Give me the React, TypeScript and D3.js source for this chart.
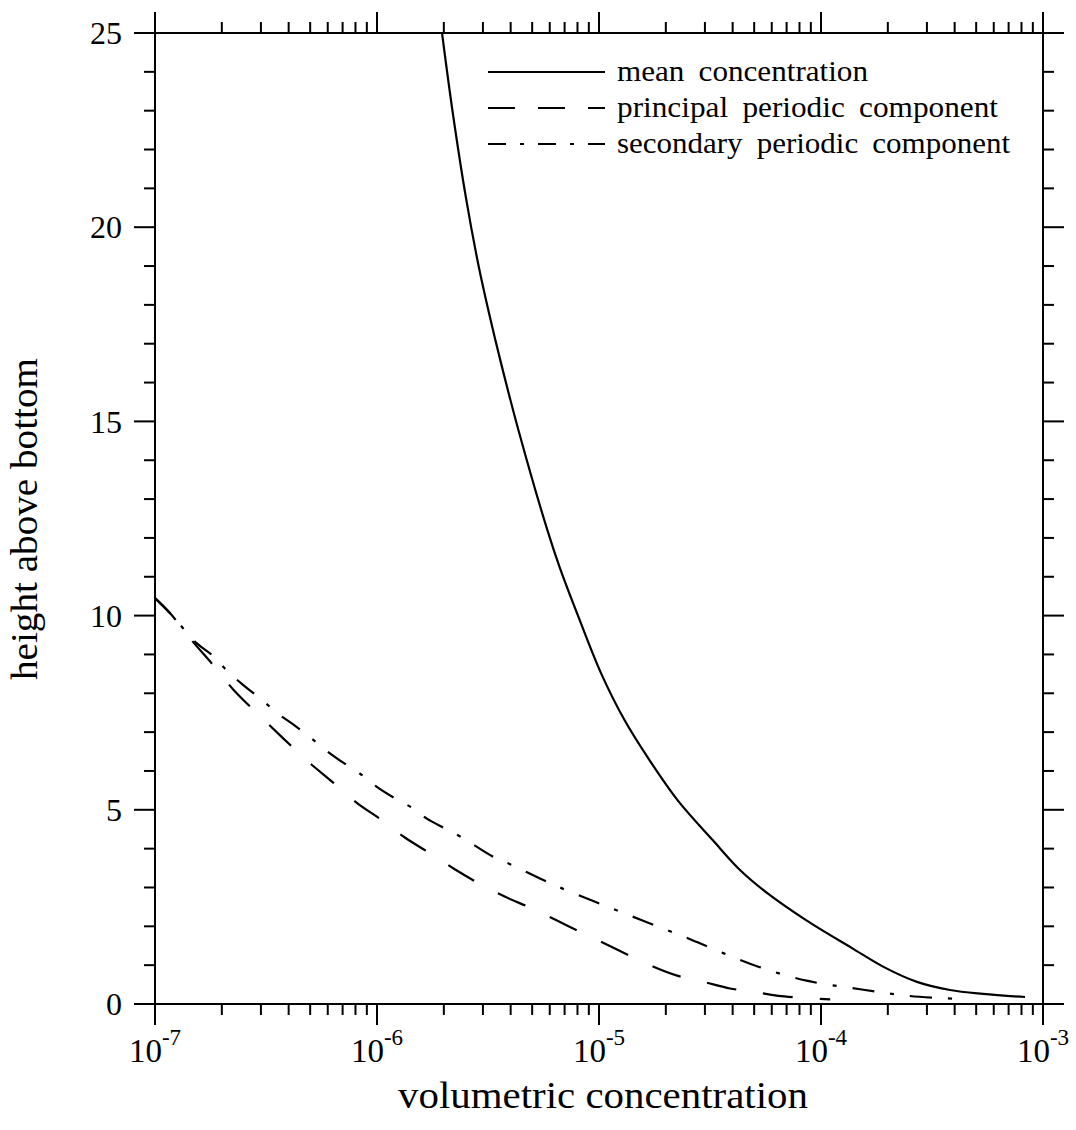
import React from "react";
import * as d3 from "d3";

// ---------- data ----------
const meanConc: number[] = [1.963e-6, 2.195e-6, 2.512e-6, 2.851e-6, 3.195e-6, 3.62e-6, 4.334e-6, 5.855e-6, 6.645e-6, 8.09e-6, 1.021e-5, 1.303e-5, 1.652e-5, 2.258e-5, 3.252e-5, 4.316e-5, 5.711e-5, 8.558e-5, 1.379e-4, 1.922e-4, 2.706e-4, 3.811e-4, 5.366e-4, 8.297e-4];
const meanHeight: number[] = [25.0, 22.94, 20.78, 19.08, 17.79, 16.5, 14.78, 12.2, 11.25, 9.96, 8.52, 7.31, 6.36, 5.25, 4.22, 3.45, 2.86, 2.16, 1.44, 0.95, 0.57, 0.36, 0.26, 0.18];

const principalConc: number[] = [1.0e-7, 1.17e-7, 1.46e-7, 1.8e-7, 2.25e-7, 2.89e-7, 3.78e-7, 4.85e-7, 6.35e-7, 8.11e-7, 1.06e-6, 1.34e-6, 1.78e-6, 2.24e-6, 2.91e-6, 3.78e-6, 4.98e-6, 6.4e-6, 8.2e-6, 1.06e-5, 1.38e-5, 1.76e-5, 2.25e-5, 3.0e-5, 3.89e-5, 4.92e-5, 6.43e-5, 1.1e-4];
const principalHeight: number[] = [10.45, 10.06, 9.37, 8.77, 8.1, 7.48, 6.84, 6.26, 5.7, 5.18, 4.72, 4.28, 3.84, 3.47, 3.09, 2.76, 2.46, 2.16, 1.86, 1.56, 1.24, 0.96, 0.73, 0.56, 0.4, 0.32, 0.21, 0.12];

const secondaryConc: number[] = [1.0e-7, 1.17e-7, 1.54e-7, 1.8e-7, 2.12e-7, 2.5e-7, 3.03e-7, 3.59e-7, 4.28e-7, 4.99e-7, 5.93e-7, 7.1e-7, 8.63e-7, 1.01e-6, 1.2e-6, 1.41e-6, 1.67e-6, 1.99e-6, 2.41e-6, 3.34e-6, 3.97e-6, 5.61e-6, 6.67e-6, 9.42e-6, 1.32e-5, 1.87e-5, 2.62e-5, 3.63e-5, 5.22e-5, 8.61e-5, 1.5e-4, 2.47e-4, 4.23e-4];
const secondaryHeight: number[] = [10.45, 10.06, 9.29, 8.99, 8.57, 8.21, 7.83, 7.47, 7.16, 6.87, 6.52, 6.2, 5.88, 5.57, 5.3, 5.08, 4.78, 4.54, 4.29, 3.79, 3.6, 3.19, 3.0, 2.65, 2.32, 1.98, 1.65, 1.31, 0.96, 0.6, 0.38, 0.21, 0.13];

const xExponents: number[] = [-7, -6, -5, -4, -3];
const yTickValues: number[] = [0, 5, 10, 15, 20, 25];
const seriesNames: string[] = ["mean concentration", "principal periodic component", "secondary periodic component"];
const xTitle = "volumetric concentration";
const yTitle = "height above bottom";

// ---------- layout ----------
const W = 1076;
const H = 1130;
const left = 155;
const right = 1043;
const top = 33;
const bottom = 1004;
const FONT = "'Liberation Serif', 'Times New Roman', Times, serif";
const dashes = ["none", "30,27", "22,16,4,16"];
const legendDashes = ["none", "27,23", "18,14,4,14"];

export default function App() {
  const x = d3.scaleLog().domain([1e-7, 1e-3]).range([left, right]);
  const y = d3.scaleLinear().domain([0, 25]).range([bottom, top]);

  const line = d3
    .line<[number, number]>()
    .x((d) => x(d[0]))
    .y((d) => y(d[1]))
    .curve(d3.curveCatmullRom.alpha(0.5));

  const series = [
    meanConc.map((c, i) => [c, meanHeight[i]] as [number, number]),
    principalConc.map((c, i) => [c, principalHeight[i]] as [number, number]),
    secondaryConc.map((c, i) => [c, secondaryHeight[i]] as [number, number]),
  ];

  const majorX = xExponents.map((e) => Math.pow(10, e));
  const minorX: number[] = [];
  xExponents.slice(0, -1).forEach((e) => {
    for (let m = 2; m <= 9; m++) minorX.push(m * Math.pow(10, e));
  });
  const minorY = d3.range(0, 26).filter((v) => v % 5 !== 0);

  const MAJ = 21;
  const MIN = 11;
  const sw = 2;

  const legendX1 = 488;
  const legendX2 = 605;
  const legendTextX = 617;
  const legendY = [72, 108, 144];
  const legendLens = [251, 381, 393];

  return (
    <svg
      width={W}
      height={H}
      viewBox={`0 0 ${W} ${H}`}
      style={{ position: "absolute", left: 0, top: 0, background: "#fff" }}
      fontFamily={FONT}
    >
      <rect x={0} y={0} width={W} height={H} fill="#fff" />
      <defs>
        <clipPath id="plotclip">
          <rect x={left} y={top} width={right - left} height={bottom - top} />
        </clipPath>
      </defs>

      {/* frame */}
      <g stroke="#000" strokeWidth={sw} fill="none">
        <line x1={left} x2={right} y1={bottom} y2={bottom} />
        <line x1={left} x2={right} y1={top} y2={top} />
        <line x1={left} x2={left} y1={top} y2={bottom} />
        <line x1={right} x2={right} y1={top} y2={bottom} />
        {majorX.map((v, i) => (
          <g key={"mx" + i}>
            <line x1={x(v)} x2={x(v)} y1={bottom} y2={bottom + MAJ} />
            <line x1={x(v)} x2={x(v)} y1={top} y2={top - MAJ} />
          </g>
        ))}
        {minorX.map((v, i) => (
          <g key={"nx" + i}>
            <line x1={x(v)} x2={x(v)} y1={bottom} y2={bottom + MIN} />
            <line x1={x(v)} x2={x(v)} y1={top} y2={top - MIN} />
          </g>
        ))}
        {yTickValues.map((v, i) => (
          <g key={"my" + i}>
            <line x1={left} x2={left - MAJ} y1={y(v)} y2={y(v)} />
            <line x1={right} x2={right + MAJ} y1={y(v)} y2={y(v)} />
          </g>
        ))}
        {minorY.map((v, i) => (
          <g key={"ny" + i}>
            <line x1={left} x2={left - MIN} y1={y(v)} y2={y(v)} />
            <line x1={right} x2={right + MIN} y1={y(v)} y2={y(v)} />
          </g>
        ))}
      </g>

      {/* y tick labels */}
      {yTickValues.map((v) => (
        <text key={"yl" + v} x={122} y={y(v)} dy="0.35em" textAnchor="end" fontSize={32} fill="#000">
          {String(v)}
        </text>
      ))}

      {/* x tick labels */}
      {xExponents.map((e) => (
        <text key={"xl" + e} x={x(Math.pow(10, e))} y={1062} textAnchor="middle" fontSize={33} fill="#000">
          10
          <tspan dy={-17} fontSize={23}>
            {"-" + Math.abs(e)}
          </tspan>
        </text>
      ))}

      {/* curves */}
      <g clipPath="url(#plotclip)" fill="none" stroke="#000" strokeWidth={2.2}>
        {series.map((s, i) => (
          <path key={"s" + i} d={line(s) || ""} strokeDasharray={dashes[i]} />
        ))}
      </g>

      {/* legend */}
      {seriesNames.map((name, i) => (
        <g key={"lg" + i}>
          <line
            x1={legendX1}
            x2={legendX2}
            y1={legendY[i]}
            y2={legendY[i]}
            stroke="#000"
            strokeWidth={2.2}
            strokeDasharray={legendDashes[i]}
          />
          <text
            x={legendTextX}
            y={legendY[i] + 9}
            fontSize={29}
            fill="#000"
            textLength={legendLens[i]}
            lengthAdjust="spacingAndGlyphs"
            style={{ wordSpacing: "6px" }}
          >
            {name}
          </text>
        </g>
      ))}

      {/* axis titles */}
      <text x={603} y={1108} textAnchor="middle" fontSize={38} fill="#000" textLength={410} lengthAdjust="spacingAndGlyphs">
        {xTitle}
      </text>
      <text
        transform={`translate(37, 519) rotate(-90)`}
        textAnchor="middle"
        fontSize={38}
        fill="#000"
        textLength={322}
        lengthAdjust="spacingAndGlyphs"
      >
        {yTitle}
      </text>
    </svg>
  );
}
